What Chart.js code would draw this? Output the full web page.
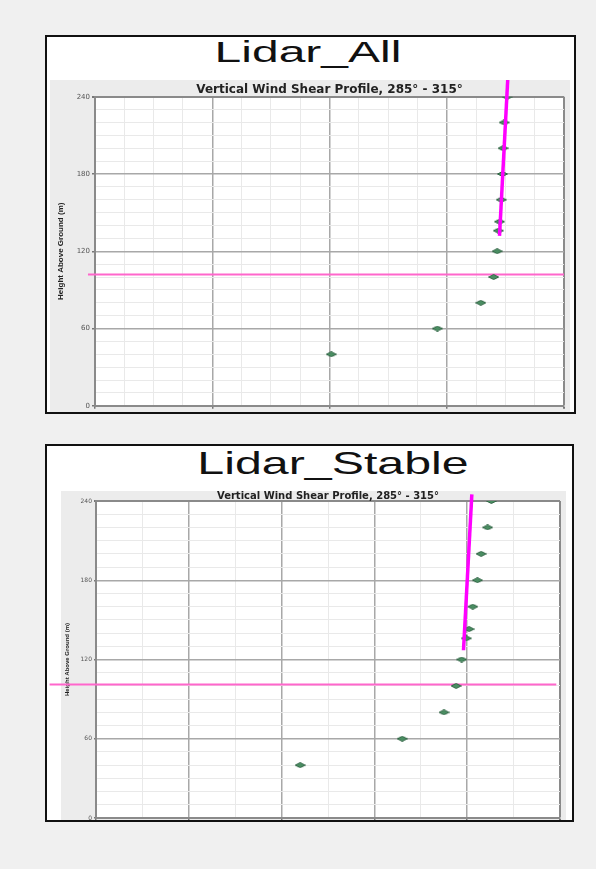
<!DOCTYPE html>
<html>
<head>
<meta charset="utf-8">
<title>Lidar vertical wind shear</title>
<script src="https://cdn.jsdelivr.net/npm/chart.js@4/dist/chart.umd.min.js"></script>
<style>
  html, body { margin: 0; padding: 0; }
  body { width: 596px; height: 869px; background: #f0f0f0; position: relative; overflow: hidden; font-family: 'Liberation Sans', Arial, sans-serif; }
  .panel { position: absolute; background: #fff; border: 2px solid #111; box-sizing: border-box; overflow: hidden; }
  .panel h1 { position: absolute; margin: 0; font-weight: normal; color: #111; white-space: nowrap; transform-origin: center; }
  .panel canvas { position: absolute; }
</style>
</head>
<body>

<div class="panel" style="left:45px; top:35px; width:531px; height:379px;">
  <h1 style="left:261px; top:0px; font-size:30px; line-height:30px; transform:translateX(-50%) scaleX(1.6);">Lidar_All</h1>
  <canvas id="chart-all" width="520" height="332" style="left:3px; top:43px;"></canvas>
</div>

<div class="panel" style="left:45px; top:444px; width:529px; height:378px;">
  <h1 style="left:286px; top:1px; font-size:32px; line-height:32px; transform:translateX(-50%) scaleX(1.51);">Lidar_Stable</h1>
  <canvas id="chart-stable" width="519" height="333" style="left:0px; top:45px;"></canvas>
</div>

<script>
const heights = [40, 60, 80, 100, 120, 136, 143, 160, 180, 200, 220, 240]
const speedsAll = [4.03, 5.84, 6.58, 6.80, 6.86, 6.88, 6.90, 6.93, 6.95, 6.96, 6.98, 7.03]
const speedsStable = [2.20, 3.30, 3.75, 3.88, 3.94, 3.99, 4.02, 4.06, 4.11, 4.15, 4.22, 4.26]

// fitted shear line (magenta)
const fitAllX = [6.90, 7.04]
const fitAllY = [132, 253]
const fitStableX = [3.96, 4.05]
const fitStableY = [127, 245]

// hub height line (pink)
const hubAllX = [-0.12, 8]
const hubAllY = [102, 102]
const hubStableX = [-0.5, 4.96]
const hubStableY = [101, 101]

const heightTicks = [0, 60, 120, 180, 240]
const subtitle = 'Vertical Wind Shear Profile, 285° - 315°'
const yTitle = 'Height Above Ground (m)'

const toPoints = (xs, ys) => xs.map((x, i) => ({ x, y: ys[i] }))

// wide, flat diamond marker like the original
const diamond = (w, h) => {
  const c = document.createElement('canvas')
  c.width = w
  c.height = h
  const g = c.getContext('2d')
  g.beginPath()
  g.moveTo(w / 2, 0.5)
  g.lineTo(w - 0.5, h / 2)
  g.lineTo(w / 2, h - 0.5)
  g.lineTo(0.5, h / 2)
  g.closePath()
  g.fillStyle = 'rgb(74, 142, 98)'
  g.fill()
  g.strokeStyle = 'rgb(48, 100, 68)'
  g.lineWidth = 1
  g.stroke()
  return c
}

// grey chart background (from greyLeft) and white plot area
const plotBg = {
  id: 'plotBg',
  beforeDraw(chart, args, opts) {
    const { ctx, chartArea: a, width, height } = chart
    ctx.save()
    ctx.fillStyle = '#ececec'
    ctx.fillRect(opts.greyLeft || 0, 0, width, height)
    ctx.fillStyle = '#fff'
    ctx.fillRect(a.left, a.top, a.right - a.left, a.bottom - a.top)
    ctx.restore()
  },
}

const makeChart = (id, o) => {
  const isMajorX = v => Math.abs(v / o.xMajor - Math.round(v / o.xMajor)) < 1e-9
  const isMajorY = v => heightTicks.includes(v)
  const gridColor = (major, edge) => c => {
    if (!c.tick) return '#e9e9e9'
    if (edge(c.tick.value)) return '#8a8a8a'
    return major(c.tick.value) ? '#a8a8a8' : '#e9e9e9'
  }
  const gridWidth = (major, edge) => c => {
    if (!c.tick) return 1
    if (edge(c.tick.value)) return 2
    return major(c.tick.value) ? 1.5 : 1
  }
  const tickColor = major => c => (c.tick && major(c.tick.value) ? '#777' : 'rgba(0,0,0,0)')

  return new Chart(document.getElementById(id), {
    type: 'scatter',
    data: {
      datasets: [
        {
          label: 'Shear fit',
          data: toPoints(o.fitX, o.fitY),
          showLine: true,
          borderColor: '#ff00ff',
          borderWidth: 3.5,
          pointRadius: 0,
          clip: false,
          order: 0,
        },
        {
          label: 'Lidar',
          data: toPoints(o.speeds, heights),
          pointStyle: diamond(11, 6),
          pointRadius: 5,
          order: 1,
        },
        {
          label: 'Hub height',
          data: toPoints(o.hubX, o.hubY),
          showLine: true,
          borderColor: 'rgb(255, 102, 204)',
          borderWidth: 2,
          pointRadius: 0,
          clip: false,
          order: 2,
        },
      ],
    },
    options: {
      responsive: false,
      animation: false,
      events: [],
      layout: { padding: { left: 0, top: 0, right: o.padRight, bottom: 0 } },
      plugins: {
        plotBg: { greyLeft: o.greyLeft },
        legend: { display: false },
        tooltip: { enabled: false },
        title: {
          display: true,
          text: subtitle,
          fullSize: false,
          color: '#222',
          font: { family: 'DejaVu Sans', size: o.titleSize, weight: 'bold', lineHeight: 1 },
          padding: { top: o.titlePadTop, bottom: o.titlePadBottom },
        },
      },
      scales: {
        x: {
          type: 'linear',
          min: 0,
          max: o.xMax,
          afterFit: s => { s.height = o.xAxisHeight },
          ticks: { display: false, stepSize: 0.5, maxTicksLimit: 100 },
          grid: {
            color: gridColor(isMajorX, v => v === o.xMax),
            lineWidth: gridWidth(isMajorX, v => v === o.xMax),
            tickLength: 3,
            tickColor: tickColor(isMajorX),
          },
          border: { color: '#8a8a8a', width: 2 },
        },
        y: {
          min: 0,
          max: 240,
          afterFit: s => { s.width = o.yAxisWidth },
          ticks: {
            stepSize: 10,
            maxTicksLimit: 100,
            autoSkip: false,
            padding: 2,
            color: '#555',
            font: { family: 'DejaVu Sans', size: o.tickSize },
            callback: v => (isMajorY(v) ? v : ''),
          },
          title: {
            display: true,
            text: yTitle,
            color: '#222',
            font: { family: 'Liberation Sans', size: o.yTitleSize, weight: 'bold' },
            padding: { top: o.yTitlePad, bottom: 0 },
          },
          grid: {
            color: gridColor(isMajorY, v => v === 240),
            lineWidth: gridWidth(isMajorY, v => v === 240),
            tickLength: o.tickLength,
            tickColor: tickColor(isMajorY),
          },
          border: { color: '#8a8a8a', width: 2 },
        },
      },
    },
    plugins: [plotBg],
  })
}

makeChart('chart-all', {
  speeds: speedsAll,
  fitX: fitAllX, fitY: fitAllY,
  hubX: hubAllX, hubY: hubAllY,
  xMax: 8, xMajor: 2,
  greyLeft: 0,
  yAxisWidth: 45, xAxisHeight: 6, padRight: 5,
  titleSize: 12, titlePadTop: 4, titlePadBottom: 0.7,
  tickSize: 7, tickLength: 3,
  yTitleSize: 8, yTitlePad: 6,
})

makeChart('chart-stable', {
  speeds: speedsStable,
  fitX: fitStableX, fitY: fitStableY,
  hubX: hubStableX, hubY: hubStableY,
  xMax: 5, xMajor: 1,
  greyLeft: 14,
  yAxisWidth: 49, xAxisHeight: 6, padRight: 4,
  titleSize: 10, titlePadTop: 0, titlePadBottom: 0,
  tickSize: 6, tickLength: 2,
  yTitleSize: 6, yTitlePad: 17,
})
</script>
</body>
</html>
